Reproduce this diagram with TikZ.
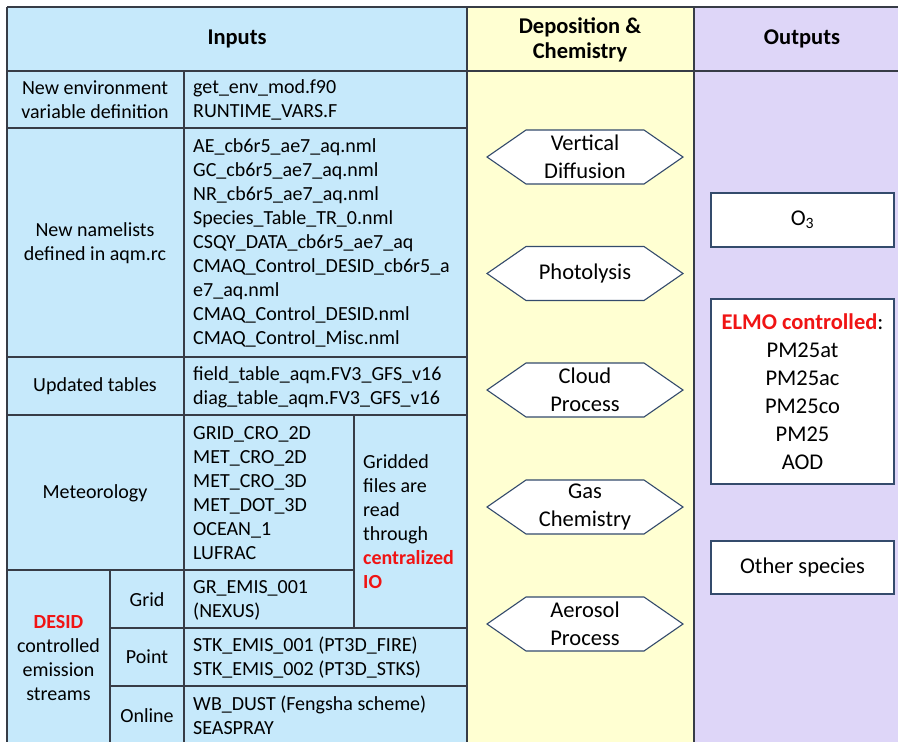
\documentclass[tikz,border=0pt]{standalone}
\usepackage{fontspec}
\setmainfont{Carlito}
\usetikzlibrary{calc}
\definecolor{inblue}{RGB}{198,233,251}
\definecolor{depyel}{RGB}{255,255,210}
\definecolor{outpur}{RGB}{222,214,248}
\definecolor{gridc}{RGB}{55,60,70}
\definecolor{hexc}{RGB}{52,75,108}
\definecolor{hired}{RGB}{240,20,20}
\tikzset{
  gridline/.style={draw=gridc, line width=1.4pt},
  lbl/.style={inner sep=0pt, align=center, font=\fontsize{20}{24}\selectfont},
  files/.style={inner sep=0pt, align=left, anchor=west, font=\fontsize{20}{24}\selectfont},
  head/.style={inner sep=0pt, align=center, font=\fontsize{22.5}{25}\selectfont\bfseries},
  hexline/.style={draw=hexc, fill=white, line width=1.1pt},
  hextext/.style={inner sep=0pt, align=center, font=\fontsize{22.5}{28}\selectfont},
  outbox/.style={draw=hexc, fill=white, line width=1.1pt, inner sep=0pt, align=center, font=\fontsize{22.5}{28}\selectfont, minimum width=183pt},
}
\newcommand{\hexat}[3]{%
  \coordinate (#1c) at (585,#2);
  \filldraw[hexline] ($(#1c)+(-98,0)$) -- ++(39,-27) -- ++(118,0) -- ++(39,27) -- ++(-39,27) -- ++(-118,0) -- cycle;
  \node[hextext] (#1) at (#1c) {#3};
}
\begin{document}
\begin{tikzpicture}[x=1pt,y=-1pt]
\useasboundingbox (0,0) rectangle (898,742);
\fill[white] (0,0) rectangle (898,742);
% column fills
\fill[inblue] (7,7) rectangle (467,742);
\fill[depyel] (467,7) rectangle (694,742);
\fill[outpur] (694,7) rectangle (898,742);
% headers
\node[head] (hin) at (237,39) {Inputs};
\node[head] (hdep) at (580,39.5) {Deposition \&\\Chemistry};
\node[head] (hout) at (802,39) {Outputs};
% grid lines
\draw[gridline] (7,7) -- (898,7);
\draw[gridline] (7,71) -- (898,71);
\draw[gridline] (7,7) -- (7,742);
\draw[gridline] (467,7) -- (467,742);
\draw[gridline] (694,7) -- (694,742);
\draw[gridline] (7,128) -- (467,128);
\draw[gridline] (7,357) -- (467,357);
\draw[gridline] (7,415) -- (467,415);
\draw[gridline] (7,570) -- (354,570);
\draw[gridline] (110,628) -- (467,628);
\draw[gridline] (110,686) -- (467,686);
\draw[gridline] (184,71) -- (184,742);
\draw[gridline] (110,570) -- (110,742);
\draw[gridline] (354,415) -- (354,628);
% inputs labels
\node[lbl] (envl) at (95,100) {New environment\\variable definition};
\node[files] (envf) at (193,100) {get\_env\_mod.f90\\RUNTIME\_VARS.F};
\node[lbl] (nml) at (95,243) {New namelists\\defined in aqm.rc};
\node[files] (nmf) at (193,243) {AE\_cb6r5\_ae7\_aq.nml\\GC\_cb6r5\_ae7\_aq.nml\\NR\_cb6r5\_ae7\_aq.nml\\Species\_Table\_TR\_0.nml\\CSQY\_DATA\_cb6r5\_ae7\_aq\\CMAQ\_Control\_DESID\_cb6r5\_a\\e7\_aq.nml\\CMAQ\_Control\_DESID.nml\\CMAQ\_Control\_Misc.nml};
\node[lbl] (updl) at (95,386) {Updated tables};
\node[files] (updf) at (193,387) {field\_table\_aqm.FV3\_GFS\_v16\\diag\_table\_aqm.FV3\_GFS\_v16};
\node[lbl] (metl) at (95,493) {Meteorology};
\node[files] (metf) at (193,493) {GRID\_CRO\_2D\\MET\_CRO\_2D\\MET\_CRO\_3D\\MET\_DOT\_3D\\OCEAN\_1\\LUFRAC};
\node[files] (grd) at (363,522) {Gridded\\files are\\read\\through\\\textcolor{hired}{\bfseries centralized}\\\textcolor{hired}{\bfseries IO}};
\node[lbl] (desid) at (58.5,658) {\textcolor{hired}{\bfseries DESID}\\controlled\\emission\\streams};
\node[lbl] (gridl) at (147,600) {Grid};
\node[files] (gridf) at (193,600) {GR\_EMIS\_001\\(NEXUS)};
\node[lbl] (ptl) at (147,657) {Point};
\node[files] (ptf) at (193,658) {STK\_EMIS\_001 (PT3D\_FIRE)\\STK\_EMIS\_002 (PT3D\_STKS)};
\node[lbl] (onl) at (147,716) {Online};
\node[files] (onf) at (193,715.5) {WB\_DUST (Fengsha scheme)\\SEASPRAY};
% hexagons
\hexat{vd}{157}{Vertical\\Diffusion}
\hexat{ph}{273.5}{Photolysis}
\hexat{cp}{390}{Cloud\\Process}
\hexat{gc}{507}{Gas\\Chemistry}
\hexat{ap}{624}{Aerosol\\Process}
% outputs
\node[outbox, minimum height=54pt] (o3) at (802.5,220) {O\textsubscript{3}};
\node[outbox, minimum height=185pt] (elmo) at (802.5,391.5) {\textcolor{hired}{\bfseries ELMO controlled}:\\PM25at\\PM25ac\\PM25co\\PM25\\AOD};
\node[outbox, minimum height=53pt] (oth) at (802.5,567.5) {Other species};
\end{tikzpicture}
\end{document}
